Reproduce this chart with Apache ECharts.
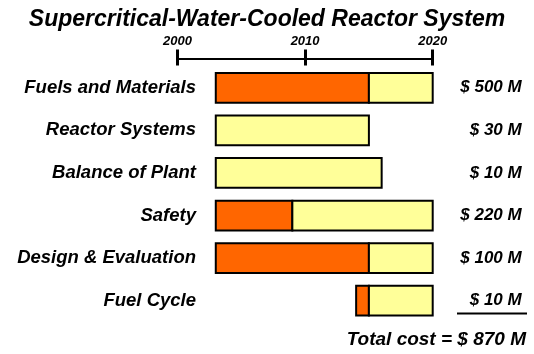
<!DOCTYPE html>
<html>
<head>
<meta charset="utf-8">
<script src="https://cdn.jsdelivr.net/npm/echarts@6/dist/echarts.min.js"></script>
<style>
  html, body { margin: 0; padding: 0; background: #ffffff; }
  #chart { width: 534px; height: 354px; }
</style>
</head>
<body>
<div id="chart"></div>
<script>
// Programme areas, top to bottom
const categories = ['Fuels and Materials', 'Reactor Systems', 'Balance of Plant', 'Safety', 'Design & Evaluation', 'Fuel Cycle'];
// Viability phase (orange), by year; null where the area has none
const viabilityStart = [2003, null, null, 2003, 2003, 2014];
const viabilityEnd   = [2015, null, null, 2009, 2015, 2015];
// Performance phase (yellow), by year
const performanceStart = [2015, 2003, 2003, 2009, 2015, 2015];
const performanceEnd   = [2020, 2015, 2016, 2020, 2020, 2020];
// R&D cost per area, million dollars
const costs = [500, 30, 10, 220, 100, 10];
// Timeline ticks
const yearMin = 2000, yearMax = 2020, yearStep = 10;

const FONT = '"Liberation Sans", Arial, sans-serif';
const ORANGE = '#FF6600';
const YELLOW = '#FFFF99';

const totalCost = costs.reduce((a, b) => a + b, 0);

function phaseData(starts, ends) {
  const out = [];
  for (let i = 0; i < categories.length; i++) {
    if (starts[i] != null && ends[i] != null) out.push([starts[i], ends[i], i]);
  }
  return out;
}

function renderPhase(color) {
  return function (params, api) {
    const row = api.value(2);
    const p0 = api.coord([api.value(0), row]);
    const p1 = api.coord([api.value(1), row]);
    const h = api.size([0, 1])[1] * 0.7;
    return {
      type: 'rect',
      shape: { x: p0[0], y: p0[1] - h / 2, width: p1[0] - p0[0], height: h },
      style: { fill: color, stroke: '#000', lineWidth: 2 }
    };
  };
}

const chart = echarts.init(document.getElementById('chart'), null, { renderer: 'canvas' });

chart.setOption({
  animation: false,
  backgroundColor: '#ffffff',
  title: {
    text: 'Supercritical-Water-Cooled Reactor System',
    left: 'center',
    top: 3,
    textStyle: { fontFamily: FONT, fontSize: 23, fontWeight: 'bold', fontStyle: 'italic', color: '#000' }
  },
  grid: { left: 177.5, right: 101.3, top: 66.5, bottom: 32, containLabel: false },
  xAxis: [
    {
      type: 'value', position: 'top', offset: 8,
      min: yearMin, max: yearMax, interval: yearStep,
      axisLine: { show: true, lineStyle: { color: '#000', width: 2 } },
      axisTick: { show: true, length: 9, lineStyle: { color: '#000', width: 3 } },
      axisLabel: {
        margin: 11,
        formatter: v => String(v),
        fontFamily: FONT, fontSize: 13, fontWeight: 'bold', fontStyle: 'italic', color: '#000'
      },
      splitLine: { show: false }
    },
    {
      type: 'value', position: 'top', offset: 8,
      min: yearMin, max: yearMax, interval: yearStep,
      axisLine: { show: false },
      axisTick: { show: true, inside: true, length: 7, lineStyle: { color: '#000', width: 3 } },
      axisLabel: { show: false },
      splitLine: { show: false }
    }
  ],
  yAxis: [
    {
      type: 'category', data: categories, inverse: true, position: 'left',
      axisLine: { show: false }, axisTick: { show: false }, splitLine: { show: false },
      axisLabel: {
        margin: -18.5,
        fontFamily: FONT, fontSize: 18.5, fontWeight: 'bold', fontStyle: 'italic', color: '#000'
      }
    },
    {
      type: 'category', data: costs.map(c => '$ ' + c + ' M'), inverse: true, position: 'right',
      axisLine: { show: false }, axisTick: { show: false }, splitLine: { show: false },
      axisLabel: {
        margin: 89, align: 'right',
        fontFamily: FONT, fontSize: 17, fontWeight: 'bold', fontStyle: 'italic', color: '#000'
      }
    }
  ],
  series: [
    {
      type: 'custom', name: 'Viability',
      xAxisIndex: 0, yAxisIndex: 0,
      renderItem: renderPhase(ORANGE),
      encode: { x: [0, 1], y: 2 },
      data: phaseData(viabilityStart, viabilityEnd)
    },
    {
      type: 'custom', name: 'Performance',
      xAxisIndex: 0, yAxisIndex: 0,
      renderItem: renderPhase(YELLOW),
      encode: { x: [0, 1], y: 2 },
      data: phaseData(performanceStart, performanceEnd)
    }
  ],
  graphic: [
    {
      type: 'line',
      shape: { x1: 457, y1: 313.5, x2: 527, y2: 313.5 },
      style: { stroke: '#000', lineWidth: 2 }
    },
    {
      type: 'text',
      right: 8, top: 330,
      style: {
        text: 'Total cost = $ ' + totalCost + ' M',
        fontFamily: FONT, fontSize: 19, fontWeight: 'bold', fontStyle: 'italic', fill: '#000'
      }
    }
  ]
});
</script>
</body>
</html>
